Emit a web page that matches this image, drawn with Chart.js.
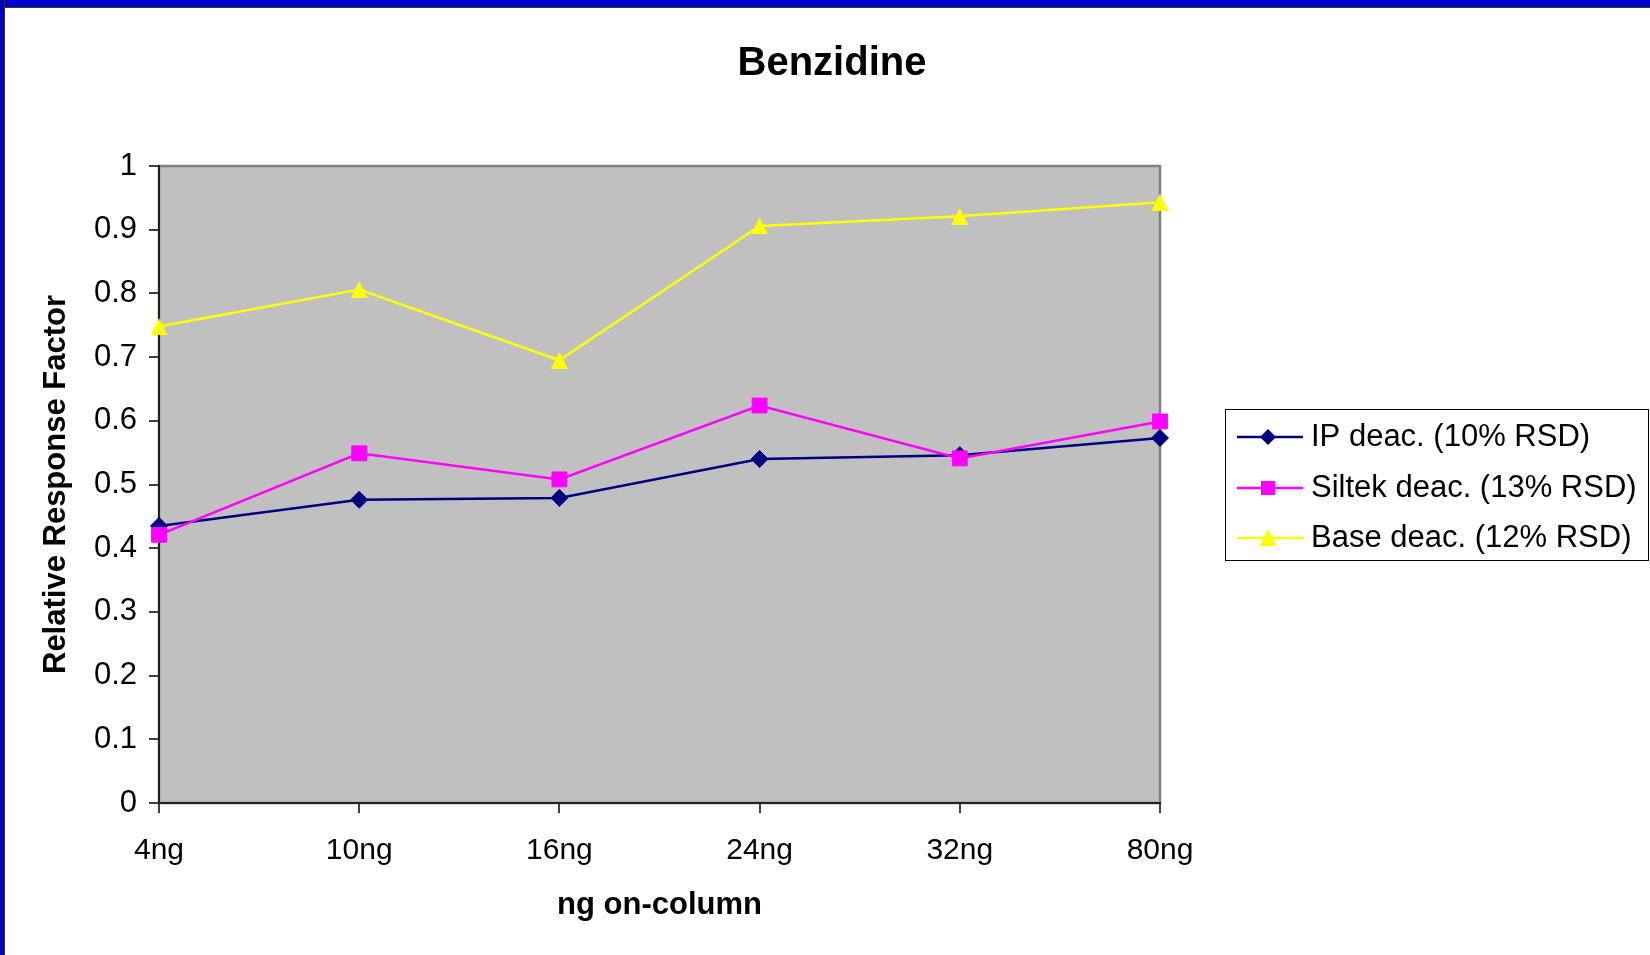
<!DOCTYPE html>
<html>
<head>
<meta charset="utf-8">
<script src="https://cdn.jsdelivr.net/npm/chart.js@4.4.1/dist/chart.umd.min.js"></script>
<style>
  html, body { margin: 0; padding: 0; background: #fff; }
  #wrap { position: relative; width: 1650px; height: 955px; overflow: hidden; }
  #c { position: absolute; left: 0; top: 0; }
  #frameTop { position: absolute; left: 0; top: 0; width: 1650px; height: 7px; background: #0000CC; border-bottom: 1px solid #333; }
  #frameLeft { position: absolute; left: 0; top: 0; width: 4px; height: 955px; background: #0000CC; border-right: 1px solid #333; }
</style>
</head>
<body>
<div id="wrap">
  <canvas id="c" width="1650" height="955"></canvas>
  <div id="frameTop"></div>
  <div id="frameLeft"></div>
</div>
<script>
// ---- data ----
const categories = ['4ng', '10ng', '16ng', '24ng', '32ng', '80ng'];
const ipDeac     = [0.435, 0.476, 0.479, 0.540, 0.546, 0.573];
const siltekDeac = [0.421, 0.549, 0.508, 0.624, 0.541, 0.599];
const baseDeac   = [0.748, 0.806, 0.695, 0.906, 0.921, 0.943];
const seriesNames = ['IP deac. (10% RSD)', 'Siltek deac. (13% RSD)', 'Base deac. (12% RSD)'];
const yTickLabels = ['0', '0.1', '0.2', '0.3', '0.4', '0.5', '0.6', '0.7', '0.8', '0.9', '1'];
const chartTitle = 'Benzidine';
const xTitle = 'ng on-column';
const yTitle = 'Relative Response Factor';

const FONT = "'Liberation Sans', Arial, Helvetica, sans-serif";

function triangleCanvas(size, color) {
  const c = document.createElement('canvas');
  c.width = size; c.height = size;
  const x = c.getContext('2d');
  x.fillStyle = color;
  x.beginPath();
  x.moveTo(size / 2, 0);
  x.lineTo(size, size);
  x.lineTo(0, size);
  x.closePath();
  x.fill();
  return c;
}

const plotBg = {
  id: 'plotBg',
  beforeDraw(chart) {
    const a = chart.chartArea, ctx = chart.ctx;
    ctx.save();
    ctx.fillStyle = '#C0C0C0';
    ctx.fillRect(a.left, a.top, a.right - a.left, a.bottom - a.top);
    ctx.strokeStyle = '#808080';
    ctx.lineWidth = 2.5;
    ctx.strokeRect(a.left, a.top, a.right - a.left, a.bottom - a.top);
    ctx.restore();
  }
};

const customLegend = {
  id: 'customLegend',
  afterDraw(chart) {
    const ctx = chart.ctx;
    const box = { x: 1225, y: 409, w: 423, h: 151 };
    ctx.save();
    ctx.fillStyle = '#fff';
    ctx.fillRect(box.x, box.y, box.w, box.h);
    ctx.strokeStyle = '#000';
    ctx.lineWidth = 1;
    ctx.strokeRect(box.x + 0.5, box.y + 0.5, box.w, box.h);
    const rows = [437, 488, 538];
    [0, 1, 2].forEach((di, i) => {
      const ds = chart.data.datasets[di];
      const y = rows[i];
      ctx.strokeStyle = ds.borderColor;
      ctx.lineWidth = 2.5;
      ctx.beginPath();
      ctx.moveTo(1237, y);
      ctx.lineTo(1303, y);
      ctx.stroke();
      const mx = 1268;
      ctx.fillStyle = ds.borderColor;
      if (ds.pointStyle === 'rectRot') {
        ctx.beginPath();
        ctx.moveTo(mx - 8, y); ctx.lineTo(mx, y - 8); ctx.lineTo(mx + 8, y); ctx.lineTo(mx, y + 8);
        ctx.closePath(); ctx.fill();
      } else if (ds.pointStyle === 'rect') {
        ctx.fillRect(mx - 7, y - 7, 14, 14);
      } else {
        ctx.beginPath();
        ctx.moveTo(mx, y - 9); ctx.lineTo(mx + 8.5, y + 8); ctx.lineTo(mx - 8.5, y + 8);
        ctx.closePath(); ctx.fill();
      }
      ctx.fillStyle = '#000';
      ctx.font = '31px ' + FONT;
      ctx.textAlign = 'left';
      ctx.textBaseline = 'alphabetic';
      ctx.fillText(ds.label, 1311, y + 9);
    });
    ctx.restore();
  }
};

const ctx = document.getElementById('c').getContext('2d');
new Chart(ctx, {
  type: 'line',
  data: {
    labels: categories,
    datasets: [
      {
        label: seriesNames[0], data: ipDeac,
        borderColor: '#000080', backgroundColor: '#000080',
        pointStyle: 'rectRot', pointRadius: 8.5, pointHoverRadius: 8.5,
        pointBorderWidth: 1, borderWidth: 2.5, tension: 0, clip: false, order: 3
      },
      {
        label: seriesNames[1], data: siltekDeac,
        borderColor: '#FF00FF', backgroundColor: '#FF00FF',
        pointStyle: 'rect', pointRadius: 10.5, pointHoverRadius: 10.5,
        pointBorderWidth: 1, borderWidth: 2.5, tension: 0, clip: false, order: 2
      },
      {
        label: seriesNames[2], data: baseDeac,
        borderColor: '#FFFF00', backgroundColor: '#FFFF00',
        pointStyle: triangleCanvas(17, '#FFFF00'), pointRadius: 8.5,
        pointBorderWidth: 0, borderWidth: 2.5, tension: 0, clip: false, order: 1
      }
    ]
  },
  options: {
    responsive: false,
    animation: false,
    devicePixelRatio: 1,
    layout: { padding: { left: 14, top: 0, right: 0, bottom: 0 } },
    plugins: {
      legend: { display: false },
      tooltip: { enabled: false },
      title: {
        display: true, text: chartTitle, color: '#000',
        font: { family: FONT, size: 40, weight: 'bold', lineHeight: 1.2 },
        padding: { top: 40, bottom: 78 }
      }
    },
    scales: {
      x: {
        type: 'category', offset: false,
        grid: { drawOnChartArea: false, drawTicks: true, tickLength: 10, color: '#404040', lineWidth: 2 },
        border: { display: true, color: '#202020', width: 2 },
        ticks: { color: '#000', font: { family: FONT, size: 30 }, padding: 20, maxRotation: 0, autoSkip: false },
        title: {
          display: true, text: xTitle, color: '#000',
          font: { family: FONT, size: 31, weight: 'bold', lineHeight: 1.2 },
          padding: { top: 0, bottom: 31 }
        },
        afterFit(s) { s.height = 152; }
      },
      y: {
        min: 0, max: 1,
        ticks: {
          stepSize: 0.1, color: '#000', font: { family: FONT, size: 31 }, padding: 12,
          callback: (v, i) => yTickLabels[i]
        },
        grid: { drawOnChartArea: false, drawTicks: true, tickLength: 10, color: '#404040', lineWidth: 2 },
        border: { display: true, color: '#202020', width: 2 },
        title: {
          display: true, text: yTitle, color: '#000',
          font: { family: FONT, size: 31, weight: 'bold', lineHeight: 1.2 },
          padding: { top: 23.4, bottom: 0 }
        },
        afterFit(s) { s.width = 145; }
      },
      yRightSpace: {
        position: 'right', display: true,
        ticks: { display: false }, grid: { display: false }, border: { display: false },
        afterFit(s) { s.width = 490; }
      }
    }
  },
  plugins: [plotBg, customLegend]
});
</script>
</body>
</html>
